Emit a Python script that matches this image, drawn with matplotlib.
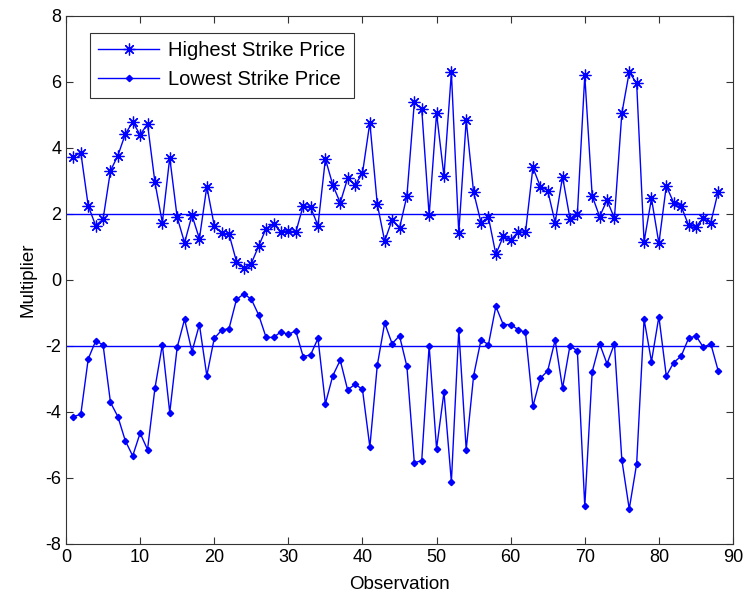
import matplotlib
matplotlib.use("Agg")
import matplotlib.pyplot as plt
import numpy as np

obs = list(range(1, 89))
highest = [3.74, 3.86, 2.25, 1.65, 1.84, 3.31, 3.77, 4.42, 4.79, 4.40,
           4.73, 2.96, 1.74, 3.71, 1.90, 1.13, 1.96, 1.25, 2.83, 1.65,
           1.42, 1.39, 0.56, 0.36, 0.50, 1.03, 1.56, 1.70, 1.46, 1.50,
           1.44, 2.25, 2.20, 1.65, 3.67, 2.88, 2.34, 3.08, 2.88, 3.23,
           4.77, 2.30, 1.18, 1.82, 1.57, 2.55, 5.38, 5.18, 1.96, 5.05,
           3.15, 6.29, 1.42, 4.84, 2.66, 1.74, 1.90, 0.78, 1.32, 1.21,
           1.46, 1.44, 3.41, 2.83, 2.71, 1.74, 3.13, 1.86, 2.00, 6.20,
           2.55, 1.92, 2.42, 1.87, 5.05, 6.30, 5.96, 1.16, 2.47, 1.11,
           2.85, 2.34, 2.24, 1.66, 1.62, 1.87, 1.74, 2.68]
lowest = [-4.14, -4.07, -2.39, -1.85, -1.96, -3.71, -4.14, -4.87, -5.33, -4.64,
          -5.14, -3.28, -1.96, -4.02, -2.04, -1.19, -2.17, -1.35, -2.90, -1.77,
          -1.52, -1.47, -0.59, -0.42, -0.58, -1.06, -1.74, -1.74, -1.57, -1.65,
          -1.54, -2.32, -2.27, -1.77, -3.75, -2.90, -2.43, -3.33, -3.16, -3.31,
          -5.06, -2.59, -1.30, -1.93, -1.69, -2.62, -5.54, -5.47, -1.99, -5.11,
          -3.40, -6.12, -1.50, -5.14, -2.90, -1.81, -1.96, -0.80, -1.35, -1.35,
          -1.50, -1.59, -3.83, -2.98, -2.75, -1.82, -3.28, -1.99, -2.15, -6.86,
          -2.78, -1.93, -2.54, -1.93, -5.45, -6.94, -5.57, -1.19, -2.47, -1.11,
          -2.91, -2.50, -2.31, -1.77, -1.69, -2.04, -1.93, -2.75]
ref_levels = [2, -2]
ref_x = [0, 88]
xticks = list(range(0, 91, 10))
yticks = list(range(-8, 9, 2))

plt.rcParams['font.family'] = ['Liberation Sans', 'DejaVu Sans']
plt.rcParams['axes.unicode_minus'] = False
fig = plt.figure(figsize=(7.47, 5.99), dpi=100)
ax = fig.add_axes([66/747, 1 - 544/599, (733-66)/747, (544-16)/599])

blue = '#0000ff'
ax.plot(obs, highest, color=blue, lw=1.0, marker=(8, 2, 0), ms=8.5, mew=0.9,
        label='Highest Strike Price')
ax.plot(obs, lowest, color=blue, lw=1.0, marker='D', ms=3.2,
        label='Lowest Strike Price')
for lv in ref_levels:
    ax.plot(ref_x, [lv, lv], color=blue, lw=1.0)

ax.set_xlim(0, 90)
ax.set_ylim(-8, 8)
ax.set_xticks(xticks)
ax.set_yticks(yticks)
ax.tick_params(direction='in', top=True, right=True, labelsize=13,
               length=5, width=0.8, colors='#333333', labelcolor='black')
for s in ax.spines.values():
    s.set_color('#333333')
    s.set_linewidth(0.8)
ax.set_xlabel('Observation', fontsize=13.5, labelpad=7)
ax.set_ylabel('Multiplier', fontsize=13.5, labelpad=6)

leg = ax.legend(loc='upper left', bbox_to_anchor=(0.036, 0.968), borderaxespad=0,
                fontsize=14.5, frameon=True, fancybox=False, edgecolor='black',
                handlelength=3.0, handletextpad=0.45, borderpad=0.42,
                labelspacing=0.5)
leg.get_frame().set_linewidth(0.8)

fig.savefig('out.png', dpi=100)
